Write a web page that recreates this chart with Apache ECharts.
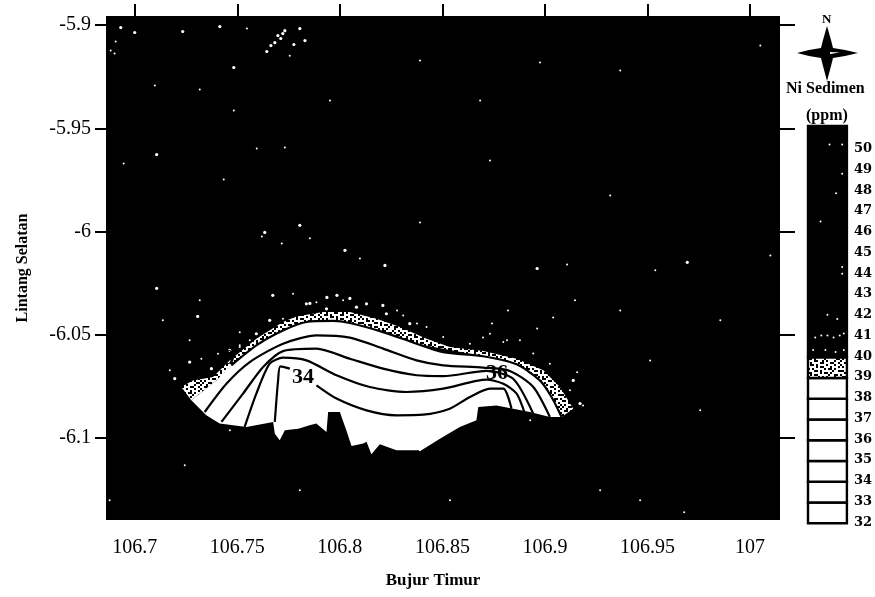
<!DOCTYPE html>
<html><head><meta charset="utf-8">
<style>html,body{margin:0;padding:0;background:#fff}#c{width:875px;height:597px}</style>
<script src="https://cdn.jsdelivr.net/npm/echarts@6/dist/echarts.min.js"></script>
</head><body><div id="c"></div>
<script>
const xTicks=[106.7,106.75,106.8,106.85,106.9,106.95,107];
const yTicks=[-5.9,-5.95,-6,-6.05,-6.1];
const whiteArea=[[106.7276,-6.0817],[106.7398,-6.0721],[106.7471,-6.0648],[106.7593,-6.0551],[106.7723,-6.0479],[106.7837,-6.0438],[106.7967,-6.0433],[106.8049,-6.0443],[106.8211,-6.0487],[106.8374,-6.0543],[106.8504,-6.0584],[106.8699,-6.0604],[106.8862,-6.0643],[106.8975,-6.0721],[106.9032,-6.0801],[106.9081,-6.0898],[106.9024,-6.0898],[106.8927,-6.0874],[106.8845,-6.0858],[106.8764,-6.0842],[106.8675,-6.085],[106.8666,-6.0914],[106.8585,-6.0946],[106.8488,-6.1003],[106.8398,-6.1059],[106.8276,-6.1059],[106.8195,-6.103],[106.8154,-6.1079],[106.813,-6.1018],[106.8114,-6.1027],[106.8057,-6.1038],[106.8032,-6.0963],[106.8,-6.0874],[106.7943,-6.0874],[106.7935,-6.0971],[106.7885,-6.0930],[106.7853,-6.0938],[106.7797,-6.0955],[106.7732,-6.0962],[106.7707,-6.1011],[106.7683,-6.0979],[106.7675,-6.0922],[106.7545,-6.0946],[106.7414,-6.093],[106.7349,-6.089]];
const speckleArea=[[106.7227,-6.0753],[106.7284,-6.0721],[106.7382,-6.0704],[106.7463,-6.0624],[106.7593,-6.0519],[106.7723,-6.0438],[106.7788,-6.0411],[106.7919,-6.039],[106.8049,-6.039],[106.8179,-6.0422],[106.8293,-6.0462],[106.8423,-6.0519],[106.8536,-6.0559],[106.8699,-6.0579],[106.8862,-6.0616],[106.8992,-6.0672],[106.9073,-6.0753],[106.9138,-6.0858],[106.9081,-6.0898],[106.8975,-6.0721],[106.8699,-6.0604],[106.8374,-6.0543],[106.7967,-6.0433],[106.7593,-6.0551],[106.7398,-6.0721],[106.7276,-6.0817]];
const contour39=[[106.7471,-6.0648],[106.7593,-6.0551],[106.7723,-6.0479],[106.7837,-6.0438],[106.7967,-6.0433],[106.8049,-6.0443],[106.8211,-6.0487],[106.8374,-6.0543],[106.8504,-6.0584],[106.8699,-6.0604],[106.8862,-6.0643],[106.8975,-6.0721],[106.9032,-6.0801],[106.9081,-6.0898]];
const contour38=[[106.7341,-6.0874],[106.7447,-6.0737],[106.7561,-6.0632],[106.7723,-6.0543],[106.7886,-6.0503],[106.8049,-6.0514],[106.8211,-6.0567],[106.8374,-6.0624],[106.8504,-6.0648],[106.8699,-6.0659],[106.8829,-6.0675],[106.8943,-6.0753],[106.9024,-6.0898]];
const contour37=[[106.7423,-6.0922],[106.7528,-6.0785],[106.7626,-6.0656],[106.7723,-6.0579],[106.7886,-6.0567],[106.8049,-6.0616],[106.8211,-6.0664],[106.8374,-6.0696],[106.8504,-6.07],[106.8715,-6.0675],[106.8845,-6.0713],[106.8943,-6.0882]];
const contour36=[[106.7536,-6.0946],[106.7593,-6.0785],[106.7658,-6.064],[106.7723,-6.0611],[106.7837,-6.0624],[106.7984,-6.0696],[106.8146,-6.0753],[106.8325,-6.0777],[106.8504,-6.0761],[106.8715,-6.0717],[106.8797,-6.0737],[106.8862,-6.0785],[106.8902,-6.0882]];
const contour34=[[106.7683,-6.0922],[106.7699,-6.0721],[106.771,-6.0653],[106.7756,-6.0664],null,[106.7886,-6.0745],[106.7984,-6.0809],[106.813,-6.0866],[106.8276,-6.089],[106.8406,-6.0887],[106.8536,-6.0858],[106.8634,-6.0801],[106.8732,-6.0761],[106.8797,-6.0761],[106.8837,-6.0858]];
const contourLabels=[[106.7821,-6.0704,'34'],[106.8766,-6.0687,'36'],[106.7434,-6.0614,'39']];
const bigDots=[[106.7000,-5.9036],[106.7234,-5.9031],[106.7415,-5.9007],[106.6932,-5.9012],[106.7483,-5.9206],[106.7107,-5.9627],[106.7732,-5.9027],[106.7722,-5.9041],[106.7683,-5.9085],[106.7644,-5.9128],[106.7712,-5.9065],[106.7776,-5.9094],[106.7664,-5.9099],[106.7698,-5.9051],[106.7805,-5.9017],[106.783,-5.9075],[106.8962,-6.0179],[106.9694,-6.0149],[106.8220,-6.0164],[106.7634,-6.0004],[106.7805,-5.997],[106.8025,-6.0091],[106.7307,-6.0411],[106.7673,-6.0309],[106.7937,-6.0319],[106.7986,-6.0309],[106.8049,-6.0324],[106.7107,-6.0275],[106.7854,-6.0348],[106.8210,-6.0358],[106.7195,-6.0712],[106.7268,-6.0632],[106.7374,-6.0664],[106.7463,-6.0575],[106.7593,-6.0495],[106.7658,-6.043],[106.7837,-6.035],[106.7935,-6.0374],[106.8081,-6.0366],[106.813,-6.035],[106.8227,-6.0398],[106.8341,-6.0446],[106.9138,-6.0721],[106.9171,-6.0833]];
const smallDots=[[106.7547,-5.9017],[106.6907,-5.908],[106.6883,-5.9123],[106.6902,-5.9138],[106.7098,-5.9293],[106.7317,-5.9312],[106.7483,-5.9414],[106.6946,-5.967],[106.7434,-5.9748],[106.7595,-5.9598],[106.7732,-5.9593],[106.7756,-5.9148],[106.8391,-5.9172],[106.8976,-5.9181],[106.9367,-5.922],[107.005,-5.9099],[106.8684,-5.9365],[106.7952,-5.9365],[106.8732,-5.9656],[106.9318,-5.9825],[107.0099,-6.0116],[106.9108,-6.0159],[106.8098,-6.013],[106.7717,-6.0058],[106.7854,-6.0033],[106.762,-6.0024],[106.8391,-5.9956],[106.9538,-6.0188],[106.9855,-6.043],[106.9367,-6.0382],[106.9147,-6.0333],[106.9513,-6.0624],[106.9757,-6.0866],[106.9269,-6.1253],[106.9464,-6.1301],[106.9679,-6.1359],[106.8537,-6.1301],[106.7805,-6.1253],[106.7244,-6.1132],[106.7464,-6.0962],[106.8391,-6.1059],[106.6878,-6.1301],[106.8928,-6.0914],[106.7317,-6.0333],[106.7268,-6.0527],[106.7512,-6.0551],[106.7512,-6.0488],[106.7561,-6.0527],[106.8279,-6.0382],[106.8376,-6.0445],[106.8698,-6.0513],[106.8815,-6.0527],[106.8962,-6.0469],[106.9157,-6.0682],[106.9186,-6.0842],[106.904,-6.0416],[106.7137,-6.043],[106.8742,-6.0445],[106.882,-6.0382],[106.7171,-6.0672],[106.7325,-6.0616],[106.7406,-6.0592],[106.7512,-6.0559],[106.7723,-6.0422],[106.7772,-6.0301],[106.7886,-6.0342],[106.8016,-6.0333],[106.8309,-6.0406],[106.8423,-6.0462],[106.8504,-6.0511],[106.8634,-6.0543],[106.8732,-6.0495],[106.8797,-6.0535],[106.8878,-6.0527],[106.8943,-6.0591],[106.9024,-6.064],[106.9122,-6.0769]];
const legendEdges=[31.95,32.95,33.95,34.95,35.95,36.95,37.95,38.95,39.95,51.1];
const legendKinds=['w','w','w','w','w','w','w','s','k'];
const legendTicks=[32,33,34,35,36,37,38,39,40,41,42,43,44,45,46,47,48,49,50];
const legendDots=[[.55,50.2],[.86,50.2],[.86,48.8],[.71,47.85],[.33,46.5],[.86,44.3],[.86,43.98],[.5,42],[.74,41.8],[.2,40.9],[.35,41],[.5,41],[.65,40.9],[.8,41],[.9,41.1],[.15,40.3],[.45,40.3],[.9,40.3],[.7,40.2]];
const textureRows=[
"#..#...##..#.#...#..",
"..##.#....##...##..#",
"#....##.#....#...#..",
".#.#....#.##...#...#",
"...##.#.....#.##.#..",
"##.....##.#.....#..#",
"..#.##....#.##.#....",
"#....#.##.....#..##.",
".##.#....#.#.#...#..",
"....#.##...##...#..#",
"#.#.....#.#...##.#..",
".#..##.#....#.....##"];
const texCanvas=document.createElement('canvas');
texCanvas.width=textureRows[0].length*2;texCanvas.height=textureRows.length*2;
const tc=texCanvas.getContext('2d');tc.fillStyle='#fff';tc.fillRect(0,0,texCanvas.width,texCanvas.height);tc.fillStyle='#000';
textureRows.forEach((r,j)=>[...r].forEach((ch,i)=>{if(ch==='#')tc.fillRect(i*2,j*2,2,2);}));
const texture={image:texCanvas,repeat:'repeat'};

const serif='"Liberation Serif","DejaVu Serif",serif';
const poly=(name,pts,fill,z)=>({type:'custom',name,xAxisIndex:0,yAxisIndex:0,z,silent:true,data:pts,encode:{x:0,y:1},
  renderItem:(p,api)=>p.dataIndex===0?{type:'polygon',shape:{points:pts.map(q=>api.coord(q))},style:{fill}}:{type:'group',children:[]}});
const contour=(name,d)=>({type:'line',name,xAxisIndex:0,yAxisIndex:0,z:3,data:d,showSymbol:false,smooth:0.25,connectNulls:false,silent:true,lineStyle:{color:'#000',width:2.2}});
const dots=(name,d,s)=>({type:'scatter',name,xAxisIndex:0,yAxisIndex:0,z:4,data:d,symbolSize:s,silent:true,itemStyle:{color:'#fff',opacity:1}});
const chart=echarts.init(document.getElementById('c'),null,{renderer:'canvas'});
const tickOpts=(len)=>({show:true,length:len,lineStyle:{color:'#000',width:2}});
chart.setOption({
  animation:false,
  backgroundColor:'#fff',
  grid:[
    {left:106,top:16,width:674,height:504,show:true,backgroundColor:'#000',borderWidth:0,containLabel:false},
    {left:807,top:128,width:42,height:415,show:false,containLabel:false}
  ],
  xAxis:[
    {type:'value',gridIndex:0,min:106.686,max:107.0146,position:'bottom',splitLine:{show:false},
     axisLine:{show:false},axisTick:{show:false,customValues:xTicks},
     axisLabel:{customValues:xTicks,fontFamily:serif,fontSize:20,color:'#000',margin:18,formatter:v=>String(+(+v).toFixed(2))},
     name:'Bujur Timur',nameLocation:'middle',nameGap:52,nameTextStyle:{fontFamily:serif,fontSize:17,fontWeight:'bold',color:'#000',padding:[0,20,0,0]}},
    {type:'value',gridIndex:0,min:106.686,max:107.0146,position:'top',splitLine:{show:false},
     axisLine:{show:false},axisTick:Object.assign(tickOpts(12),{customValues:xTicks}),axisLabel:{show:false}},
    {type:'value',gridIndex:1,min:0,max:1,show:false,splitLine:{show:false}}
  ],
  yAxis:[
    {type:'value',gridIndex:0,min:-6.1397,max:-5.8956,position:'left',splitLine:{show:false},
     axisLine:{show:false},axisTick:Object.assign(tickOpts(11),{customValues:yTicks}),
     axisLabel:{customValues:yTicks,fontFamily:serif,fontSize:20,color:'#000',margin:15,formatter:v=>String(+(+v).toFixed(2))},
     name:'Lintang Selatan',nameLocation:'middle',nameGap:75,nameRotate:90,nameTextStyle:{fontFamily:serif,fontSize:16,fontWeight:'bold',color:'#000',padding:[0,0,0,0]}},
    {type:'value',gridIndex:0,min:-6.1397,max:-5.8956,position:'right',splitLine:{show:false},
     axisLine:{show:false},axisTick:Object.assign(tickOpts(15),{customValues:yTicks}),axisLabel:{show:false}},
    {type:'value',gridIndex:1,min:31,max:51,position:'right',splitLine:{show:false},
     axisLine:{show:false},axisTick:{show:false},
     axisLabel:{customValues:legendTicks,fontFamily:'"DejaVu Serif",serif',fontWeight:'bold',fontSize:13,color:'#000',margin:6}}
  ],
  series:[
    poly('speckle',speckleArea,texture,1),
    poly('white',whiteArea,'#fff',2),
    contour('39',contour39),contour('38',contour38),contour('37',contour37),contour('36',contour36),contour('34',contour34),
    dots('big',bigDots,3.2),dots('small',smallDots,2),
    {type:'scatter',name:'labels',xAxisIndex:0,yAxisIndex:0,z:6,data:contourLabels,symbolSize:0,silent:true,itemStyle:{opacity:1},
      label:{show:true,position:'inside',opacity:1,formatter:p=>p.value[2],fontFamily:serif,fontWeight:'bold',fontSize:22,color:'#000',textBorderWidth:0}},
    {type:'custom',name:'legend',xAxisIndex:2,yAxisIndex:2,z:2,silent:true,
     data:legendKinds.map((k,i)=>[0,legendEdges[i],1,legendEdges[i+1],k]),encode:{x:[0,2],y:[1,3]},
     renderItem:(p,api)=>{const a=api.coord([api.value(0),api.value(1)]),b=api.coord([api.value(2),api.value(3)]);const k=legendKinds[p.dataIndex];
       return {type:'rect',shape:{x:a[0]+1,y:b[1],width:b[0]-a[0]-2,height:a[1]-b[1]},
         style:{fill:k==='w'?'#fff':k==='s'?texture:'#000',stroke:'#000',lineWidth:2.4}};}},
    {type:'scatter',name:'legendDots',xAxisIndex:2,yAxisIndex:2,z:4,data:legendDots,symbolSize:2,silent:true,itemStyle:{color:'#fff',opacity:1}}
  ],
  graphic:[
    {type:'text',left:822,top:13,style:{text:'N',font:'bold 13px '+serif,fill:'#000'}},
    {type:'polygon',shape:{points:[[827,26],[831,40],[833,48],[845,50],[858,53],[845,56],[833,58],[831,66],[827,81],[823,66],[821,58],[809,56],[797,53],[809,50],[821,48],[823,40]]},style:{fill:'#000'}},
    {type:'polygon',shape:{points:[[830,52],[840,52.5],[830,54]]},style:{fill:'#fff'}},
    {type:'text',left:786,top:81,style:{text:'Ni Sedimen',font:'bold 16px '+serif,fill:'#000'}},
    {type:'text',left:806,top:108,style:{text:'(ppm)',font:'bold 16px '+serif,fill:'#000'}}
  ]
});
</script></body></html>
